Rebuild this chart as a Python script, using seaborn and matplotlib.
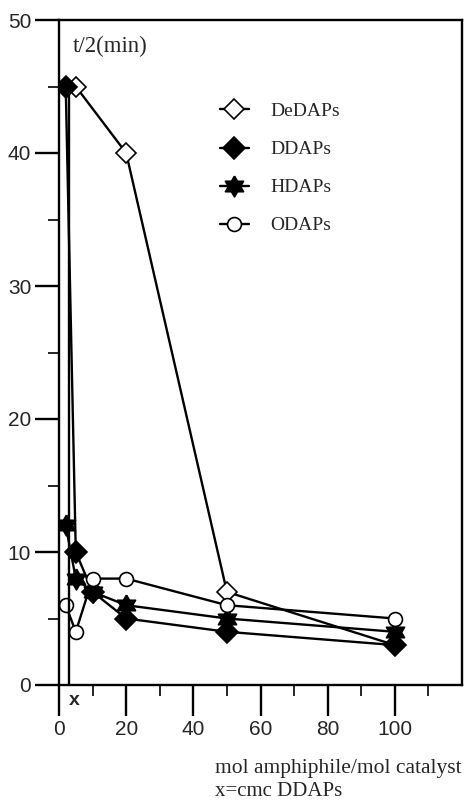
import numpy as np
import pandas as pd
import matplotlib
matplotlib.use("Agg")
import matplotlib.pyplot as plt
import seaborn as sns

sns.set_style("ticks")
plt.rcParams['font.family'] = ['Liberation Sans', 'DejaVu Sans']

# data
x_dedaps = [5, 20, 50, 100]
y_dedaps = [45, 40, 7, 3]
x_ddaps = [2, 5, 10, 20, 50, 100]
y_ddaps = [45, 10, 7, 5, 4, 3]
x_hdaps = [2, 5, 10, 20, 50, 100]
y_hdaps = [12, 8, 7, 6, 5, 4]
x_odaps = [2, 5, 10, 20, 50, 100]
y_odaps = [6, 4, 8, 8, 6, 5]
cmc_ddaps = 3
cmc_top = 45

# six pointed star marker
ang = np.deg2rad(90 + 30 * np.arange(13))
rad = np.where(np.arange(13) % 2 == 0, 1.0, 0.58)
hexagram = list(zip(rad * np.cos(ang), rad * np.sin(ang)))

series = [
    ("DeDAPs", x_dedaps, y_dedaps, dict(marker="D", markersize=10, markerfacecolor="white")),
    ("DDAPs", x_ddaps, y_ddaps, dict(marker="D", markersize=11, markerfacecolor="black")),
    ("HDAPs", x_hdaps, y_hdaps, dict(marker=hexagram, markersize=15, markerfacecolor="black")),
    ("ODAPs", x_odaps, y_odaps, dict(marker="o", markersize=10, markerfacecolor="white")),
]

fig = plt.figure(figsize=(4.66, 8.02), dpi=100)
ax = fig.add_axes([59 / 466, 1 - 685 / 802, 403 / 466, 665 / 802])

for name, xs, ys, style in series:
    df = pd.DataFrame({"x": xs, "y": ys})
    sns.lineplot(data=df, x="x", y="y", ax=ax, color="black", linewidth=1.7,
                 markeredgecolor="black", markeredgewidth=1.2, label=name, **style)

# cmc marker line
ax.vlines(cmc_ddaps, 0, cmc_top, color="black", linewidth=1.7)
ax.annotate("x", xy=(cmc_ddaps, -0.023), xycoords=("data", "axes fraction"),
            ha="left", va="center", fontsize=14, fontweight="bold")

ax.set_xlim(0, 120)
ax.set_ylim(0, 50)
ax.set_xticks([0, 20, 40, 60, 80, 100])
ax.set_xticks(np.arange(10, 120, 10), minor=True)
ax.set_yticks(np.arange(0, 51, 10))
ax.set_yticks(np.arange(5, 50, 10), minor=True)
ax.tick_params(axis="both", which="major", direction="out", width=1.7, labelsize=15, color="black")
ax.tick_params(axis="x", which="major", length=22, pad=3)
ax.tick_params(axis="y", which="major", length=17, pad=3)
ax.tick_params(axis="both", which="minor", direction="out", length=8, width=1.4)
for sp in ax.spines.values():
    sp.set_linewidth(1.7)
    sp.set_color("black")
ax.set_xlabel("")
ax.set_ylabel("")

ax.text(4, 48, "t/2(min)", family="Liberation Serif", fontsize=16.5, ha="left", va="center")

leg = ax.legend(loc="upper left", bbox_to_anchor=(0.355, 0.902), frameon=False,
                prop={"family": "Liberation Serif", "size": 14}, handlelength=1.5,
                labelspacing=1.05, handletextpad=1.1)

fig.text(215 / 466, 1 - 769 / 802, "mol amphiphile/mol catalyst", family="Liberation Serif",
         fontsize=15.5, ha="left", va="center")
fig.text(215 / 466, 1 - 791 / 802, "x=cmc DDAPs", family="Liberation Serif",
         fontsize=15, ha="left", va="center")

fig.savefig("out.png", dpi=100)
